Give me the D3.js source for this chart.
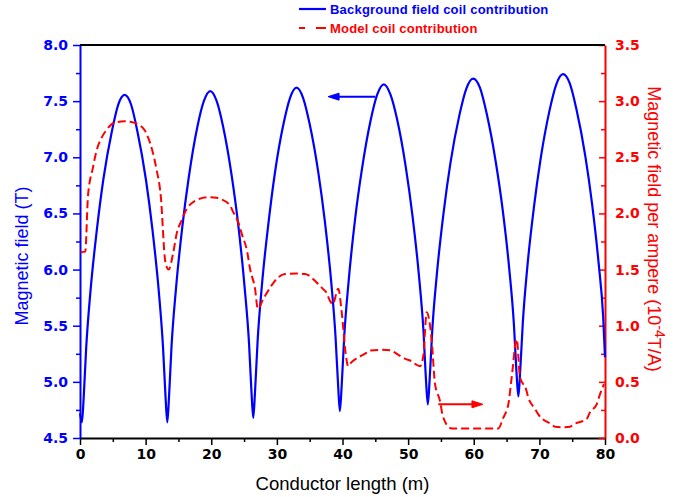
<!DOCTYPE html>
<html>
<head>
<meta charset="utf-8">
<script src="https://cdn.jsdelivr.net/npm/d3@7"></script>
<style>
  body { margin: 0; background: #fff; }
</style>
</head>
<body>
<div id="chart"></div>
<script>
///////////////////////////////////////////////////////////////////////////
// Data
///////////////////////////////////////////////////////////////////////////
const xTicks = [0, 10, 20, 30, 40, 50, 60, 70, 80];
const leftTicks = [4.5, 5.0, 5.5, 6.0, 6.5, 7.0, 7.5, 8.0];
const rightTicks = [0.0, 0.5, 1.0, 1.5, 2.0, 2.5, 3.0, 3.5];

// background field coil contribution, [length m, field T]
const backgroundField = [
  [0, 4.72], [0.3, 4.64], [0.56, 4.86], [0.95, 5.31], [1.6, 5.81], [2.58, 6.36], [3.55, 6.80], [4.85, 7.23], [5.83, 7.47],
  [6.8, 7.555], [7.78, 7.47], [8.75, 7.23], [10.05, 6.80], [11.03, 6.36], [12.0, 5.81], [12.65, 5.31], [13.04, 4.86], [13.3, 4.64],
  [13.56, 4.86], [13.95, 5.32], [14.61, 5.82], [15.59, 6.38], [16.57, 6.82], [17.88, 7.27], [18.87, 7.50], [19.85, 7.59],
  [20.83, 7.50], [21.82, 7.27], [23.13, 6.83], [24.11, 6.40], [25.09, 5.84], [25.75, 5.35], [26.14, 4.90], [26.4, 4.68],
  [26.66, 4.90], [27.06, 5.36], [27.72, 5.86], [28.71, 6.41], [29.7, 6.86], [31.02, 7.30], [32.01, 7.53], [33.0, 7.62],
  [33.99, 7.53], [34.98, 7.30], [36.3, 6.87], [37.29, 6.44], [38.28, 5.89], [38.94, 5.40], [39.34, 4.96], [39.6, 4.74],
  [39.87, 4.96], [40.27, 5.41], [40.94, 5.90], [41.94, 6.46], [42.95, 6.89], [44.29, 7.33], [45.3, 7.56], [46.3, 7.65],
  [47.3, 7.56], [48.31, 7.34], [49.65, 6.91], [50.66, 6.48], [51.66, 5.94], [52.33, 5.46], [52.73, 5.01], [53.0, 4.80],
  [53.28, 5.02], [53.69, 5.47], [54.38, 5.96], [55.41, 6.51], [56.45, 6.95], [57.83, 7.38], [58.86, 7.61], [59.9, 7.70],
  [60.94, 7.62], [61.97, 7.39], [63.35, 6.96], [64.39, 6.54], [65.42, 6.00], [66.11, 5.52], [66.52, 5.08], [66.8, 4.87],
  [67.07, 5.09], [67.48, 5.53], [68.16, 6.02], [69.18, 6.56], [70.2, 6.99], [71.56, 7.42], [72.58, 7.65], [73.6, 7.74],
  [74.62, 7.66], [75.64, 7.43], [77.0, 7.01], [78.02, 6.59], [79.04, 6.05], [79.72, 5.58], [80.0, 5.22]
];

// model coil contribution, [length m, field per ampere 1e-4 T/A]
const modelField = [
  [0.1, 1.655], [0.8, 1.66], [1.22, 2.16], [1.98, 2.41], [2.48, 2.55], [3.25, 2.67], [4.0, 2.74], [5.29, 2.81], [6.8, 2.82],
  [7.82, 2.815], [8.58, 2.80], [9.86, 2.74], [10.36, 2.68], [11.63, 2.40], [12.3, 2.16], [13.0, 1.57], [13.5, 1.50],
  [14.22, 1.655], [14.73, 1.82], [15.5, 1.94], [16.0, 2.01], [17.78, 2.12], [19.55, 2.145], [20.83, 2.14], [21.33, 2.13],
  [22.86, 2.07], [23.36, 2.01], [24.12, 1.92], [24.64, 1.82], [25.49, 1.655], [25.9, 1.51], [26.67, 1.33], [27.1, 1.15],
  [27.93, 1.24], [28.45, 1.29], [29.21, 1.36], [29.71, 1.40], [31.24, 1.46], [33.0, 1.465], [34.29, 1.46], [34.79, 1.45],
  [35.81, 1.40], [36.31, 1.37], [36.98, 1.33], [37.49, 1.30], [38.2, 1.21], [38.5, 1.19], [39.36, 1.33], [39.88, 1.12],
  [40.53, 0.73], [40.85, 0.64], [41.14, 0.66], [43.69, 0.76], [44.19, 0.78], [45.8, 0.785], [47.5, 0.78], [48.0, 0.76],
  [49.78, 0.70], [50.29, 0.69], [51.81, 0.64], [52.31, 0.73], [52.83, 1.12], [53.59, 0.87], [54.1, 0.48], [54.86, 0.33],
  [55.27, 0.20], [56.38, 0.09], [56.64, 0.085], [63.74, 0.085], [64.5, 0.18], [64.91, 0.23], [65.27, 0.30], [65.78, 0.54],
  [66.55, 0.88], [67.05, 0.54], [67.96, 0.435], [68.31, 0.36], [69.33, 0.26], [69.84, 0.21], [71.88, 0.12], [72.38, 0.10],
  [73.5, 0.095], [74.67, 0.10], [75.17, 0.12], [77.21, 0.17], [77.71, 0.23], [78.73, 0.30], [79.24, 0.39], [79.85, 0.48]
];

// arrows pointing to the axis of each curve: [x from, x to, y]
const blueArrow = [45.0, 37.8, 7.54];
const redArrow = [54.6, 61.4, 0.30];

///////////////////////////////////////////////////////////////////////////
// Set up the SVG
///////////////////////////////////////////////////////////////////////////
const W = 690, H = 497;
const margin = { top: 45, right: 85, bottom: 59, left: 80 };
const width = W - margin.left - margin.right;
const height = H - margin.top - margin.bottom;

const BLUE = "#0000ff";
const RED = "#ff0000";

const svg = d3.select("#chart").append("svg")
  .attr("width", W)
  .attr("height", H)
  .style("font-family", "'Liberation Sans', Arial, sans-serif");

const g = svg.append("g")
  .attr("transform", `translate(${margin.left},${margin.top})`);

const x = d3.scaleLinear().domain([0, 80]).range([0, width]);
const yL = d3.scaleLinear().domain([4.5, 8.0]).range([height, 0]);
const yR = d3.scaleLinear().domain([0, 3.5]).range([height, 0]);

///////////////////////////////////////////////////////////////////////////
// Axes
///////////////////////////////////////////////////////////////////////////
const fmt = d3.format(".1f");
const tickFont = "'DejaVu Sans', Verdana, sans-serif";

function minors(a, b, step) {
  return d3.range(a, b + 1e-9, step).filter(v => Math.abs(v / (step * 2) - Math.round(v / (step * 2))) > 1e-6);
}

// bottom
g.append("g").attr("transform", `translate(0,${height})`)
  .call(d3.axisBottom(x).tickValues(minors(0, 80, 5)).tickSize(4).tickFormat("").tickSizeOuter(0))
  .call(a => a.select(".domain").remove());
const xAxis = g.append("g").attr("transform", `translate(0,${height})`)
  .call(d3.axisBottom(x).tickValues(xTicks).tickSize(7).tickPadding(4).tickSizeOuter(0));
xAxis.selectAll("text").attr("font-family", tickFont).attr("font-weight", "bold").attr("font-size", 14).attr("fill", "#000");

// left
g.append("g")
  .call(d3.axisLeft(yL).tickValues(minors(4.5, 8.0, 0.25)).tickSize(4).tickFormat("").tickSizeOuter(0))
  .call(a => a.select(".domain").remove());
const yAxisL = g.append("g")
  .call(d3.axisLeft(yL).tickValues(leftTicks).tickSize(7).tickPadding(5).tickFormat(fmt).tickSizeOuter(0));
yAxisL.selectAll("text").attr("font-family", tickFont).attr("font-weight", "bold").attr("font-size", 14).attr("fill", BLUE);

// right (ticks inward)
g.append("g").attr("transform", `translate(${width},0)`)
  .call(d3.axisRight(yR).tickValues(minors(0, 3.5, 0.25)).tickSize(-4).tickFormat("").tickSizeOuter(0))
  .call(a => a.select(".domain").remove());
const yAxisR = g.append("g").attr("transform", `translate(${width},0)`)
  .call(d3.axisRight(yR).tickValues(rightTicks).tickSize(-6).tickPadding(10).tickFormat(fmt).tickSizeOuter(0));
yAxisR.selectAll("text").attr("font-family", tickFont).attr("font-weight", "bold").attr("font-size", 14).attr("fill", RED);

// colours of axis lines
g.selectAll(".tick line").attr("stroke-width", 1.5);
g.selectAll(".domain").attr("stroke-width", 2);
xAxis.selectAll(".domain, .tick line").attr("stroke", "#000");
g.selectAll("g").filter(function () { return this.parentNode === g.node(); }).each(function (d, i) {
  const sel = d3.select(this);
  if (i === 2 || i === 3) sel.selectAll("line, path").attr("stroke", BLUE);
  if (i === 4 || i === 5) sel.selectAll("line, path").attr("stroke", RED);
});

// top frame line
g.append("line")
  .attr("x1", 0).attr("x2", width).attr("y1", 0).attr("y2", 0)
  .attr("stroke", "#000").attr("stroke-width", 2);

///////////////////////////////////////////////////////////////////////////
// Curves
///////////////////////////////////////////////////////////////////////////
const lineL = d3.line().x(d => x(d[0])).y(d => yL(d[1])).curve(d3.curveMonotoneX);
const lineR = d3.line().x(d => x(d[0])).y(d => yR(d[1])).curve(d3.curveMonotoneX);

g.append("path")
  .datum(backgroundField)
  .attr("d", lineL)
  .attr("fill", "none")
  .attr("stroke", BLUE)
  .attr("stroke-width", 2.2);

g.append("path")
  .datum(modelField)
  .attr("d", lineR)
  .attr("fill", "none")
  .attr("stroke", RED)
  .attr("stroke-width", 2)
  .attr("stroke-dasharray", "8,4");

// arrows
function arrow(x1, x2, yy, color) {
  const dir = x2 > x1 ? 1 : -1;
  g.append("line")
    .attr("x1", x1).attr("x2", x2 - dir * 8).attr("y1", yy).attr("y2", yy)
    .attr("stroke", color).attr("stroke-width", 2);
  g.append("path")
    .attr("d", `M${x2},${yy} L${x2 - dir * 11},${yy - 3.5} L${x2 - dir * 11},${yy + 3.5} Z`)
    .attr("fill", color).attr("stroke", color).attr("stroke-width", 1);
}
arrow(x(blueArrow[0]), x(blueArrow[1]), yL(blueArrow[2]), BLUE);
arrow(x(redArrow[0]), x(redArrow[1]), yR(redArrow[2]), RED);

///////////////////////////////////////////////////////////////////////////
// Titles
///////////////////////////////////////////////////////////////////////////
svg.append("text")
  .attr("x", margin.left + width / 2)
  .attr("y", 490)
  .attr("text-anchor", "middle")
  .attr("font-size", 18.5)
  .attr("fill", "#000")
  .text("Conductor length (m)");

svg.append("text")
  .attr("transform", "translate(28,256) rotate(-90)")
  .attr("text-anchor", "middle")
  .attr("font-size", 18)
  .attr("fill", BLUE)
  .text("Magnetic field (T)");

const rt = svg.append("text")
  .attr("transform", "translate(648,229) rotate(90)")
  .attr("text-anchor", "middle")
  .attr("font-size", 18)
  .attr("fill", RED);
rt.append("tspan").text("Magnetic field per ampere (10");
rt.append("tspan").attr("dy", -7).attr("font-size", 14).text("-4");
rt.append("tspan").attr("dy", 7).text("T/A)");

///////////////////////////////////////////////////////////////////////////
// Legend
///////////////////////////////////////////////////////////////////////////
const legend = [
  { label: "Background field coil contribution", color: BLUE, dash: null, y: 9 },
  { label: "Model coil contribution", color: RED, dash: "6,11,10", y: 28 }
];
legend.forEach(l => {
  svg.append("line")
    .attr("x1", 299).attr("x2", 326).attr("y1", l.y).attr("y2", l.y)
    .attr("stroke", l.color).attr("stroke-width", 2.2)
    .attr("stroke-dasharray", l.dash);
  svg.append("text")
    .attr("x", 330).attr("y", l.y + 4.5)
    .attr("font-size", 13)
    .attr("font-weight", "bold")
    .attr("letter-spacing", 0.2)
    .attr("fill", l.color)
    .text(l.label);
});
</script>
</body>
</html>
